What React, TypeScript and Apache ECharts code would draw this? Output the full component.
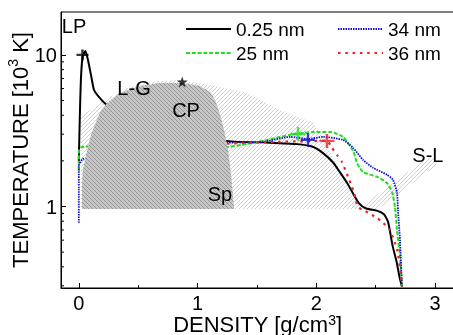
import React, { useEffect, useRef } from 'react';
import * as echarts from 'echarts';

const FONT = '"Liberation Sans", Arial, Helvetica, sans-serif';

const X_MIN = -0.15;
const X_MAX = 3.16;
const Y_MIN = 0.29;
const Y_MAX = 19.2;

const xTickLabels = [0, 1, 2, 3];
const yTickLabels = [1, 10];
const yMinorTicks = [0.3, 0.4, 0.5, 0.6, 0.7, 0.8, 0.9, 2, 3, 4, 5, 6, 7, 8, 9];

const seriesNames = ['0.25 nm', '25 nm', '34 nm', '36 nm'];

const data025 = [
  [0.0, 2.0], [0.005, 3.0], [0.012, 5.0], [0.02, 7.5], [0.032, 9.7], [0.056, 10.6],
  [0.077, 9.25], [0.103, 7.35], [0.128, 5.87], [0.162, 5.37], [0.238, 4.68],
  [1.23, 2.72], [1.55, 2.65], [1.84, 2.58], [1.97, 2.48], [2.054, 2.26], [2.14, 1.96],
  [2.2, 1.68], [2.26, 1.43], [2.31, 1.22], [2.36, 1.05], [2.42, 0.97], [2.51, 0.94],
  [2.57, 0.89], [2.605, 0.79], [2.643, 0.55], [2.677, 0.43], [2.702, 0.34], [2.722, 0.296],
];
const data25 = [
  [0.0, 1.72], [0.0, 2.3], [0.02, 2.46], [0.08, 2.49],
  [1.248, 2.47], [1.417, 2.59], [1.585, 2.75], [1.779, 2.97], [1.973, 3.1], [2.116, 3.1],
  [2.225, 2.88], [2.31, 2.33], [2.343, 1.94], [2.394, 1.69], [2.512, 1.57], [2.596, 1.43],
  [2.638, 1.25], [2.663, 0.99], [2.68, 0.7], [2.705, 0.465], [2.722, 0.296],
];
const data34 = [
  [0.0, 0.78], [0.0, 1.3], [0.0, 1.85], [0.03, 2.05], [0.07, 2.09],
  [1.248, 2.63], [1.551, 2.67], [1.779, 2.88], [1.93, 2.79], [2.057, 2.88], [2.225, 2.75],
  [2.31, 2.44], [2.394, 2.03], [2.478, 1.8], [2.596, 1.62], [2.646, 1.5], [2.68, 1.23],
  [2.688, 0.95], [2.705, 0.6], [2.722, 0.296],
];
const data36 = [
  [1.25, 2.6], [1.6, 2.66], [1.95, 2.7], [2.09, 2.71], [2.132, 2.44], [2.174, 2.19],
  [2.216, 1.97], [2.267, 1.57], [2.3, 1.35], [2.326, 1.16], [2.351, 0.99], [2.394, 0.95],
  [2.436, 0.91], [2.512, 0.84], [2.563, 0.78], [2.62, 0.7], [2.68, 0.52], [2.714, 0.354],
  [2.722, 0.296],
];

const lpMarker = [[0.031, 10.0]];
const crit25 = [[1.846, 3.01]];
const crit34 = [[1.93, 2.75]];
const crit36 = [[2.09, 2.71]];
const cpStar = [[0.871, 6.64]];

// spinodal (dark) region
const spinodalRegion = [
  [0.027, 0.964], [0.027, 1.39], [0.035, 1.74], [0.061, 2.19], [0.103, 2.97], [0.179, 4.21],
  [0.238, 4.82], [0.347, 5.61], [0.515, 6.25], [0.684, 6.54], [0.877, 6.54], [1.02, 6.25],
  [1.105, 5.7], [1.147, 5.05], [1.19, 4.02], [1.223, 3.2], [1.257, 2.36], [1.282, 1.62],
  [1.307, 0.994], [1.307, 0.964],
];
// liquid-gas coexistence (light hatch)
const coexistRegion = [
  [0.0185, 0.964], [0.0185, 3.84], [0.153, 4.75], [0.28, 5.37], [0.431, 6.15], [0.6, 6.64],
  [0.852, 6.84], [1.105, 6.34], [1.42, 5.61], [1.694, 4.34], [1.973, 3.56], [2.074, 2.75],
  [2.141, 2.09], [2.2, 1.72], [2.259, 1.43], [2.31, 1.19], [2.385, 0.964],
];
// solid-liquid band
const solidLiquidRegion = [
  [2.35, 0.964], [2.52, 0.964], [3.017, 1.88], [2.958, 2.16],
];

const annotations = [
  { text: 'LP', x: -0.04, y: 15.5 },
  { text: 'L-G', x: 0.465, y: 6.06 },
  { text: 'CP', x: 0.903, y: 4.33 },
  { text: 'Sp', x: 1.189, y: 1.21 },
  { text: 'S-L', x: 2.94, y: 2.19 },
];

function hatchSegments(pts: number[][], step: number, dir: number) {
  const u = (p: number[]) => p[0] + dir * p[1];
  let umin = Infinity;
  let umax = -Infinity;
  pts.forEach((p) => {
    const v = u(p);
    if (v < umin) umin = v;
    if (v > umax) umax = v;
  });
  const segs: number[][] = [];
  for (let c = Math.ceil(umin / step) * step; c <= umax; c += step) {
    const xs: number[] = [];
    for (let i = 0; i < pts.length; i++) {
      const a = pts[i];
      const b = pts[(i + 1) % pts.length];
      const ua = u(a);
      const ub = u(b);
      if ((ua <= c && ub > c) || (ub <= c && ua > c)) {
        const t = (c - ua) / (ub - ua);
        xs.push(a[0] + t * (b[0] - a[0]));
      }
    }
    xs.sort((m, n) => m - n);
    for (let k = 0; k + 1 < xs.length; k += 2) {
      segs.push([xs[k], (c - xs[k]) * dir, xs[k + 1], (c - xs[k + 1]) * dir]);
    }
  }
  return segs;
}

export default function App() {
  const ref = useRef<HTMLDivElement>(null);
  useEffect(() => {
    const chart = echarts.init(ref.current!, null, { renderer: 'svg' });

    const hatchSeries = (name: string, region: number[][], opts: any) => ({
      type: 'custom',
      name,
      z: opts.z,
      silent: true,
      clip: false,
      data: [[region[0][0], region[0][1]]],
      renderItem: (_params: any, api: any) => {
        const pts = region.map((p) => api.coord(p));
        const segs = hatchSegments(pts, opts.step, opts.dir);
        const children: any[] = [];
        if (opts.fill) {
          children.push({ type: 'polygon', shape: { points: pts }, style: { fill: opts.fill, stroke: 'none' } });
        }
        segs.forEach((s) =>
          children.push({
            type: 'line',
            shape: { x1: s[0], y1: s[1], x2: s[2], y2: s[3] },
            style: { stroke: opts.color, lineWidth: opts.width },
          })
        );
        return { type: 'group', children };
      },
    });

    const plusSymbol = 'path://M0,6H12M6,0V12';
    const starSymbol =
      'path://M5,0L6.2,3.6L10,3.6L6.9,5.8L8.1,9.5L5,7.2L1.9,9.5L3.1,5.8L0,3.6L3.8,3.6Z';

    const marker = (name: string, d: number[][], color: string, size: number[]) => ({
      type: 'scatter',
      name,
      z: 6,
      silent: true,
      symbol: plusSymbol,
      symbolSize: size,
      data: d,
      itemStyle: { color: 'rgba(0,0,0,0)', borderColor: color, borderWidth: 2.4 },
    });

    const lineSeries = (name: string, d: number[][], color: string, width: number, type: any) => ({
      type: 'line',
      name,
      z: 3,
      data: d,
      symbol: 'none',
      showSymbol: false,
      smooth: 0.2,
      lineStyle: { color, width, type, cap: 'butt' },
      itemStyle: { color },
    });

    const legendBase = {
      orient: 'vertical',
      top: 19,
      padding: 0,
      itemWidth: 45,
      itemHeight: 14,
      itemGap: 4,
      itemStyle: { opacity: 0 },
      textStyle: { fontSize: 19, lineHeight: 20, color: '#000', fontFamily: FONT },
    };

    const yNameStyle = {
      fontSize: 22,
      lineHeight: 28,
      color: '#000',
      fontFamily: FONT,
      rich: { sup: { fontSize: 14, lineHeight: 14, verticalAlign: 'top', color: '#000', fontFamily: FONT } },
    };
    const xNameStyle = {
      fontSize: 22,
      lineHeight: 22,
      color: '#000',
      fontFamily: FONT,
      rich: { sup: { fontSize: 14, lineHeight: 10, verticalAlign: 'top', color: '#000', fontFamily: FONT } },
    };

    const option: any = {
      animation: false,
      textStyle: { fontFamily: FONT },
      grid: {
        left: 61,
        top: 12,
        width: 393,
        height: 276,
        show: true,
        borderColor: '#000',
        borderWidth: 1,
        outerBoundsMode: 'none',
        containLabel: false,
      },
      legend: [
        { ...legendBase, left: 185, data: [seriesNames[0], seriesNames[1]] },
        { ...legendBase, left: 337, data: [seriesNames[2], seriesNames[3]] },
      ],
      xAxis: {
        type: 'value',
        min: X_MIN,
        max: X_MAX,
        splitNumber: 3,
        minInterval: 1,
        maxInterval: 1,
        axisLine: { show: true, onZero: false, lineStyle: { color: '#000', width: 1 } },
        axisTick: { show: true, inside: true, length: 5, lineStyle: { color: '#000' } },
        minorTick: { show: true, splitNumber: 2, length: 3, lineStyle: { color: '#000' } },
        splitLine: { show: false },
        axisLabel: {
          margin: 6,
          fontSize: 20,
          lineHeight: 17,
          color: '#000',
          fontFamily: FONT,
          showMinLabel: false,
          showMaxLabel: false,
          formatter: (v: number) => (xTickLabels.some((t) => Math.abs(t - v) < 1e-6) ? String(Math.round(v)) : ''),
        },
        name: 'DENSITY [g/cm{sup|3}]',
        nameLocation: 'middle',
        nameGap: 25,
        nameMoveOverlap: false,
        nameTextStyle: xNameStyle,
      },
      yAxis: {
        type: 'log',
        logBase: 10,
        min: Y_MIN,
        max: Y_MAX,
        axisLine: { show: true, onZero: false, lineStyle: { color: '#000', width: 1 } },
        axisTick: { show: true, inside: true, length: 5, lineStyle: { color: '#000' } },
        splitLine: { show: false },
        axisLabel: {
          margin: 4,
          fontSize: 20,
          color: '#000',
          fontFamily: FONT,
          showMinLabel: false,
          showMaxLabel: false,
          formatter: (v: number) => {
            const t = yTickLabels.find((k) => Math.abs(k - v) < 1e-6 * k);
            return t !== undefined ? String(t) : '';
          },
        },
        name: 'TEMPERATURE [10{sup|3} K]',
        nameLocation: 'middle',
        nameGap: 27,
        nameMoveOverlap: false,
        nameTextStyle: yNameStyle,
      },
      series: [
        hatchSeries('coexist', coexistRegion, { z: 1, step: 4, dir: 1, color: '#c2c2c2', width: 0.8 }),
        hatchSeries('solidLiquid', solidLiquidRegion, { z: 1, step: 4, dir: 1, color: '#c2c2c2', width: 0.8 }),
        lineSeries(seriesNames[0], data025, '#000000', 2, 'solid'),
        lineSeries(seriesNames[1], data25, '#22dd22', 2, [4, 1.8]),
        lineSeries(seriesNames[2], data34, '#1010d0', 1.8, [1.5, 1]),
        lineSeries(seriesNames[3], data36, '#ee2020', 2.2, [2.5, 4.8]),
        hatchSeries('spinodal', spinodalRegion, { z: 4, step: 4, dir: -1, color: '#888888', width: 0.8, fill: '#c6c6c6' }),
        {
          type: 'custom',
          name: 'yMinor',
          z: 5,
          silent: true,
          clip: false,
          data: yMinorTicks.map((v) => [X_MIN, v]),
          renderItem: (_p: any, api: any) => {
            const p = api.coord([api.value(0), api.value(1)]);
            return {
              type: 'line',
              shape: { x1: p[0], y1: p[1], x2: p[0] + 3, y2: p[1] },
              style: { stroke: '#000', lineWidth: 1 },
            };
          },
        },
        marker('markLP', lpMarker, '#000000', [12, 11]),
        marker('mark25', crit25, '#22dd22', [15, 14]),
        marker('mark34', crit34, '#1010d0', [14, 14]),
        marker('mark36', crit36, '#ee2020', [15, 14]),
        {
          type: 'scatter',
          name: 'cp',
          z: 6,
          silent: true,
          symbol: starSymbol,
          symbolSize: 11,
          data: cpStar,
          itemStyle: { color: '#000' },
        },
      ],
    };

    chart.setOption(option);

    const texts = annotations.map((a) => {
      const p = chart.convertToPixel({ gridIndex: 0 }, [a.x, a.y]) as number[];
      return {
        type: 'text',
        x: p[0],
        y: p[1],
        z: 100,
        silent: true,
        style: {
          text: a.text,
          fontSize: 20,
          fontFamily: FONT,
          fill: '#000',
          textAlign: 'center',
          textVerticalAlign: 'middle',
        },
      };
    });
    chart.setOption({ graphic: texts });

    return () => chart.dispose();
  }, []);
  return <div ref={ref} style={{ position: 'fixed', left: 0, top: 0, width: 453, height: 335 }} />;
}
